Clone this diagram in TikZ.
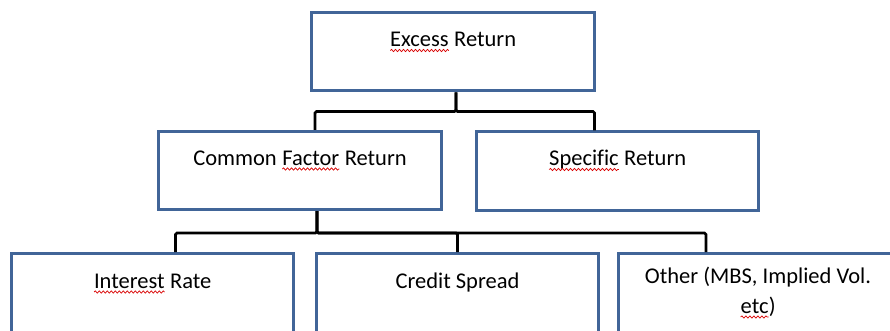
\documentclass[tikz,border=0pt]{standalone}
\usepackage{fontspec}
\setmainfont{Carlito}[Ligatures=NoCommon]
\usetikzlibrary{decorations.pathmorphing}

\definecolor{boxblue}{RGB}{65,101,152}

\tikzset{
  box/.style={draw=boxblue, line width=3pt, minimum width=283pt, minimum height=78pt, inner sep=0pt},
  caption/.style={anchor=base, inner sep=0pt, font=\fontsize{22.5}{30}\selectfont, align=center, text=black},
  link/.style={line width=2.6pt, rounded corners=1.5pt},
  squiggle/.style={draw=red!85!black, line width=0.7pt, decorate, decoration={snake, segment length=4pt, amplitude=1.1pt}}
}

% word with a red wavy underline
\newcommand\wavy[1]{\tikz[baseline=(w.base)]{\node[inner sep=0pt, outer sep=0pt] (w) {#1};
  \draw[squiggle] ([yshift=-4pt]w.base west) -- ([yshift=-4pt]w.base east);}}

\begin{document}
\begin{tikzpicture}[x=1pt, y=-1pt]
  \useasboundingbox (0,0) rectangle (890,331);
  \clip (0,0) rectangle (890,331);

  % boxes
  \node[box] (excess) at (453,52) {};
  \node[box] (common) at (300,170.5) {};
  \node[box, minimum width=282pt] (specific) at (617.5,171) {};
  \node[box, minimum width=282pt, minimum height=100pt] (rate) at (152.5,303.5) {};
  \node[box, minimum width=282pt, minimum height=100pt] (spread) at (457.5,303.5) {};
  \node[box, minimum width=279pt, minimum height=100pt] (other) at (758,303.5) {};

  % texts (base of a two-line text is its last line)
  \node[caption] (excess text) at ([yshift=-35pt]excess.north) {\wavy{Excess} Return};
  \node[caption] (common text) at ([yshift=-35pt]common.north) {Common \wavy{Factor} Return};
  \node[caption] (specific text) at ([yshift=-35pt]specific.north) {\wavy{Specific} Return};
  \node[caption] (rate text) at ([yshift=-36pt]rate.north) {\wavy{Interest} Rate};
  \node[caption] (spread text) at ([yshift=-36pt]spread.north) {Credit Spread};
  \node[caption] (other text) at ([yshift=-61pt]other.north) {Other (MBS, Implied Vol.\\\wavy{etc})};

  % connectors
  \draw[link] ([xshift=3pt]excess.south) -- ++(0,19) -| ([xshift=15pt]common.north);
  \draw[link] ([xshift=3pt]excess.south) -- ++(0,19) -| ([xshift=-23pt]specific.north);
  \draw[link] ([xshift=17pt]common.south) -- ++(0,22) -| ([xshift=23pt]rate.north);
  \draw[link] ([xshift=17pt]common.south) -- ++(0,22) -| (spread.north);
  \draw[link] ([xshift=17pt]common.south) -- ++(0,22) -| ([xshift=-52pt]other.north);
\end{tikzpicture}
\end{document}
